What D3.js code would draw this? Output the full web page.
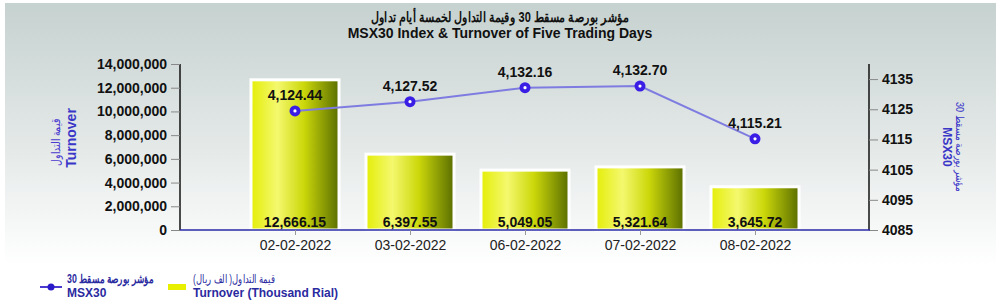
<!DOCTYPE html>
<html><head><meta charset="utf-8">
<script src="https://cdn.jsdelivr.net/npm/d3@7"></script>
<style>body{margin:0;background:#fff}svg{display:block;font-family:"Liberation Sans",Arial,sans-serif}</style>
</head><body>
<script>
const dates = ["02-02-2022","03-02-2022","06-02-2022","07-02-2022","08-02-2022"];
const turnover = [12666150, 6397550, 5049050, 5321640, 3645720];
const msx30 = [4124.44, 4127.52, 4132.16, 4132.70, 4115.21];
const leftTicks = [0, 2000000, 4000000, 6000000, 8000000, 10000000, 12000000, 14000000];
const rightTicks = [4085, 4095, 4105, 4115, 4125, 4135];
const titleAr = "مؤشر بورصة مسقط 30 وقيمة التداول لخمسة أيام تداول";
const titleEn = "MSX30 Index & Turnover of Five Trading Days";

const W = 1000, H = 303;
const svg = d3.select("body").append("svg").attr("width", W).attr("height", H);
const defs = svg.append("defs");
const bg = defs.append("linearGradient").attr("id","bg").attr("x1",0).attr("y1",0).attr("x2",0).attr("y2",1);
bg.append("stop").attr("offset","0%").attr("stop-color","#c6d2d0");
bg.append("stop").attr("offset","55%").attr("stop-color","#e4e9e8");
bg.append("stop").attr("offset","100%").attr("stop-color","#ffffff");
const bg2 = defs.append("linearGradient").attr("id","bar").attr("x1",0).attr("y1",0).attr("x2",1).attr("y2",0);
[["0%","#e4ee08"],["30%","#f4f86e"],["60%","#ccd80a"],["100%","#5a6e00"]].forEach(s=>bg2.append("stop").attr("offset",s[0]).attr("stop-color",s[1]));

svg.append("rect").attr("x",5).attr("y",3).attr("width",991).attr("height",262).attr("fill","url(#bg)");

const x0 = 180, x1 = 870, yTop = 64, yBot = 230;
const x = d3.scalePoint().domain(dates).range([x0, x1]).padding(1);
const yL = d3.scaleLinear().domain([0, 14000000]).range([yBot, yTop]);
const yR = d3.scaleLinear().domain([4085, 4140]).range([yBot, yTop]);

// titles
svg.append("text").attr("x",500).attr("y",22).attr("text-anchor","middle").attr("font-size",14).attr("font-weight","bold").attr("fill","#111")
  .attr("textLength",258).attr("lengthAdjust","spacingAndGlyphs").text(titleAr);
svg.append("text").attr("x",500).attr("y",38).attr("text-anchor","middle").attr("font-size",14).attr("font-weight","bold").attr("fill","#111").text(titleEn);

// bars
const bw = 88;
const bars = svg.append("g");
dates.forEach((d,i)=>{
  const top = yL(turnover[i]);
  bars.append("rect").attr("x", x(d)-bw/2).attr("y", top).attr("width", bw).attr("height", yBot-top)
    .attr("fill","url(#bar)").attr("stroke","#ffffff").attr("stroke-width",3);
  bars.append("text").attr("x", x(d)).attr("y", yBot-3).attr("text-anchor","middle").attr("font-size",14)
    .attr("font-weight","bold").attr("fill","#111").text(d3.format(",.2f")(turnover[i]/1000));
});

// left axis
const gl = svg.append("g").attr("transform",`translate(${x0},0)`)
  .call(d3.axisLeft(yL).tickValues(leftTicks).tickSize(9).tickPadding(4).tickFormat(d3.format(",")));
gl.select(".domain").attr("stroke","#111").attr("stroke-width",1.5).attr("d",`M0,${yTop}V${yBot}`);
gl.selectAll(".tick line").attr("stroke","#888");
gl.selectAll(".tick text").attr("font-size",14).attr("font-weight","bold").attr("fill","#111").attr("font-family","Liberation Sans, Arial");

// right axis
const gr = svg.append("g").attr("transform",`translate(${x1-1},0)`)
  .call(d3.axisRight(yR).tickValues(rightTicks).tickSize(9).tickPadding(4).tickFormat(d3.format("d")));
gr.select(".domain").attr("stroke","#111").attr("stroke-width",1.5).attr("d",`M0,${yTop}V${yBot}`);
gr.selectAll(".tick line").attr("stroke","#888");
gr.selectAll(".tick text").attr("font-size",14).attr("font-weight","bold").attr("fill","#111").attr("font-family","Liberation Sans, Arial");

// x axis
const gx = svg.append("g").attr("transform",`translate(0,${yBot})`)
  .call(d3.axisBottom(x).tickSize(5).tickPadding(5));
gx.select(".domain").attr("stroke","#2a2aa8").attr("stroke-width",1.5).attr("d",`M${x0},0H${x1}`);
gx.selectAll(".tick line").attr("stroke","#999");
gx.selectAll(".tick text").attr("font-size",14).attr("fill","#222").attr("font-family","Liberation Sans, Arial");

// line
const line = d3.line().x((d,i)=>x(dates[i])).y(d=>yR(d));
svg.append("path").datum(msx30).attr("d",line).attr("fill","none").attr("stroke","#7e7ce0").attr("stroke-width",2);
const pts = svg.append("g");
msx30.forEach((v,i)=>{
  pts.append("circle").attr("cx",x(dates[i])).attr("cy",yR(v)).attr("r",5.5).attr("fill","#3a1ee6");
  pts.append("circle").attr("cx",x(dates[i])).attr("cy",yR(v)).attr("r",1.6).attr("fill","#ffffff");
  pts.append("text").attr("x",x(dates[i])).attr("y",yR(v)-11).attr("text-anchor","middle").attr("font-size",14)
    .attr("font-weight","bold").attr("fill","#111").text(d3.format(",.2f")(v));
});

// axis titles
const lt = svg.append("g").attr("transform","translate(66,142) rotate(-90)");
lt.append("text").attr("y",-6).attr("text-anchor","middle").attr("font-size",12).attr("fill","#4a3ad0")
  .attr("textLength",47).attr("lengthAdjust","spacingAndGlyphs").text("قيمة التداول");
lt.append("text").attr("y",10).attr("x",4).attr("text-anchor","middle").attr("font-size",14).attr("font-weight","bold").attr("fill","#3a36c8").text("Turnover");
const rt = svg.append("g").attr("transform","translate(946,147) rotate(90)");
rt.append("text").attr("y",-10).attr("text-anchor","middle").attr("font-size",11).attr("fill","#3a36c8")
  .attr("textLength",90).attr("lengthAdjust","spacingAndGlyphs").text("مؤشر بورصة مسقط 30");
rt.append("text").attr("y",3).attr("text-anchor","middle").attr("font-size",12).attr("font-weight","bold").attr("fill","#3a36c8").text("MSX30");

// legend
const lg = svg.append("g");
lg.append("line").attr("x1",40).attr("x2",62).attr("y1",287).attr("y2",287).attr("stroke","#4a3ad0").attr("stroke-width",2);
lg.append("circle").attr("cx",51).attr("cy",287).attr("r",3.5).attr("fill","#2a1ac8");
lg.append("text").attr("x",110).attr("y",283).attr("font-size",12).attr("font-weight","bold").attr("fill","#2a2aa0").attr("text-anchor","middle")
  .attr("textLength",86).attr("lengthAdjust","spacingAndGlyphs").text("مؤشر بورصة مسقط 30");
lg.append("text").attr("x",67).attr("y",297).attr("font-size",12).attr("font-weight","bold").attr("fill","#2a2aa0").text("MSX30");
lg.append("rect").attr("x",168).attr("y",284).attr("width",18).attr("height",6).attr("fill","#e8f000");
lg.append("text").attr("x",234).attr("y",283).attr("font-size",12).attr("fill","#2a2aa0").attr("text-anchor","middle")
  .attr("textLength",82).attr("lengthAdjust","spacingAndGlyphs").text("قيمة التداول( الف ريال)");
lg.append("text").attr("x",193).attr("y",297).attr("font-size",12).attr("font-weight","bold").attr("fill","#2a2aa0").text("Turnover (Thousand Rial)");
</script>
</body></html>
